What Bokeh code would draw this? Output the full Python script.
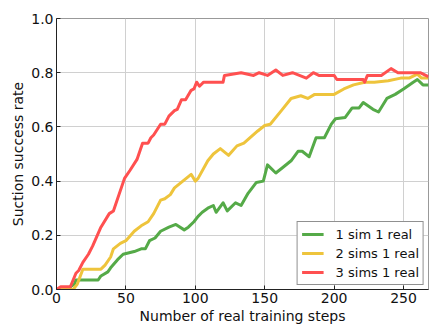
from bokeh.plotting import figure
from bokeh.models import Range1d, Legend, LegendItem, FixedTicker, PrintfTickFormatter
from bokeh.embed import file_html
from bokeh.resources import INLINE

# ---- data ----
green_x = [0, 7, 10, 13, 14, 30, 32, 37, 39, 44, 48, 56, 61, 64, 67, 71, 75, 81, 86, 92,
           95, 99, 102, 105, 109, 113, 115, 120, 123, 129, 133, 138, 144, 149, 152, 158, 163, 169, 174, 177,
           182, 187, 193, 198, 201, 208, 213, 218, 221, 228, 232, 238, 244, 250, 257, 260, 264, 268]
green_y = [0, 0, 0.01, 0.02, 0.035, 0.035, 0.05, 0.065, 0.08, 0.11, 0.13, 0.14, 0.15, 0.15, 0.18, 0.19, 0.215, 0.23, 0.24, 0.22,
           0.23, 0.25, 0.27, 0.285, 0.30, 0.31, 0.285, 0.32, 0.29, 0.32, 0.31, 0.355, 0.395, 0.40, 0.46, 0.43, 0.45, 0.475, 0.51, 0.51,
           0.49, 0.56, 0.56, 0.61, 0.63, 0.635, 0.67, 0.67, 0.69, 0.665, 0.655, 0.705, 0.72, 0.74, 0.765, 0.775, 0.755, 0.755]

yellow_x = [0, 12, 15, 19, 32, 35, 39, 41, 46, 50, 56, 61, 66, 70, 75, 78, 82, 85, 91, 97,
            100, 102, 109, 113, 118, 124, 130, 135, 145, 150, 154, 162, 169, 176, 181, 186, 195, 200, 207, 214,
            222, 229, 239, 248, 254, 260, 263, 268]
yellow_y = [0, 0, 0.02, 0.075, 0.075, 0.09, 0.12, 0.15, 0.17, 0.18, 0.215, 0.235, 0.25, 0.28, 0.33, 0.335, 0.35, 0.375, 0.40, 0.425,
            0.40, 0.41, 0.475, 0.50, 0.52, 0.495, 0.53, 0.54, 0.585, 0.605, 0.61, 0.66, 0.705, 0.715, 0.705, 0.72, 0.72, 0.72, 0.74, 0.755,
            0.765, 0.765, 0.77, 0.78, 0.78, 0.795, 0.78, 0.78]

red_x = [0, 3, 10, 14, 16, 19, 23, 26, 32, 38, 41, 49, 53, 58, 62, 66, 68, 70, 75, 78,
         81, 85, 87, 90, 93, 97, 99, 101, 103, 106, 120, 121, 133, 142, 146, 152, 158, 163, 170, 180,
         185, 189, 200, 202, 221, 222, 224, 234, 241, 246, 262, 266, 268]
red_y = [0, 0.01, 0.01, 0.06, 0.07, 0.10, 0.13, 0.16, 0.23, 0.28, 0.29, 0.41, 0.44, 0.48, 0.54, 0.54, 0.56, 0.57, 0.61, 0.61,
         0.64, 0.66, 0.665, 0.70, 0.70, 0.735, 0.74, 0.765, 0.75, 0.765, 0.765, 0.79, 0.80, 0.79, 0.80, 0.79, 0.81, 0.79, 0.80, 0.78,
         0.80, 0.79, 0.79, 0.775, 0.775, 0.765, 0.79, 0.79, 0.815, 0.80, 0.80, 0.79, 0.785]

series_labels = ["1 sim 1 real", "2 sims 1 real", "3 sims 1 real"]
series_colors = ["#55aa48", "#eec43c", "#ff5050"]
x_ticks = [0, 50, 100, 150, 200, 250]
y_ticks = [0.0, 0.2, 0.4, 0.6, 0.8, 1.0]

FONT = "DejaVu Sans"

p = figure(width=429, height=327, output_backend="svg", toolbar_location=None,
           x_range=Range1d(0, 268), y_range=Range1d(0, 1.0),
           min_border_left=56, min_border_right=1, min_border_top=18, min_border_bottom=38)

p.outline_line_color = "#999999"
p.outline_line_width = 1
p.background_fill_color = "white"
p.border_fill_color = "white"

p.xgrid.grid_line_color = "#d0d0d0"
p.ygrid.grid_line_color = "#d0d0d0"
p.xgrid.ticker = FixedTicker(ticks=x_ticks)
p.ygrid.ticker = FixedTicker(ticks=y_ticks)

for ax in (p.xaxis[0], p.yaxis[0]):
    ax.major_tick_in = 4
    ax.major_tick_out = 0
    ax.minor_tick_in = 0
    ax.minor_tick_out = 0
    ax.axis_line_color = "#222222"
    ax.major_tick_line_color = "#222222"
    ax.major_label_text_font = FONT
    ax.major_label_text_font_size = "14px"
    ax.major_label_text_color = "#111111"
    ax.axis_label_text_font = FONT
    ax.axis_label_text_font_size = "14px"
    ax.axis_label_text_font_style = "normal"
    ax.axis_label_text_color = "#111111"
    ax.major_label_standoff = 3
    ax.axis_label_standoff = 2

p.xaxis[0].ticker = FixedTicker(ticks=x_ticks)
p.yaxis[0].ticker = FixedTicker(ticks=y_ticks)
p.yaxis[0].formatter = PrintfTickFormatter(format="%.1f")
p.xaxis[0].axis_label = "Number of real training steps"
p.yaxis[0].axis_label = "Suction success rate"

renderers = []
for xs, ys, c in zip([green_x, yellow_x, red_x], [green_y, yellow_y, red_y], series_colors):
    r = p.line(xs, ys, line_color=c, line_width=3, line_join="round")
    renderers.append(r)

legend = Legend(items=[LegendItem(label=l, renderers=[r]) for l, r in zip(series_labels, renderers)],
                location="bottom_right")
legend.label_text_font = FONT
legend.label_text_font_size = "13px"
legend.label_text_color = "#111111"
legend.border_line_color = "#222222"
legend.border_line_width = 1
legend.background_fill_alpha = 1.0
legend.padding = 4
legend.spacing = 3
legend.margin = 4
legend.glyph_width = 22
legend.glyph_height = 16
legend.label_height = 16
legend.label_standoff = 12
p.add_layout(legend)

open("out.html", "w").write(file_html(p, INLINE))
